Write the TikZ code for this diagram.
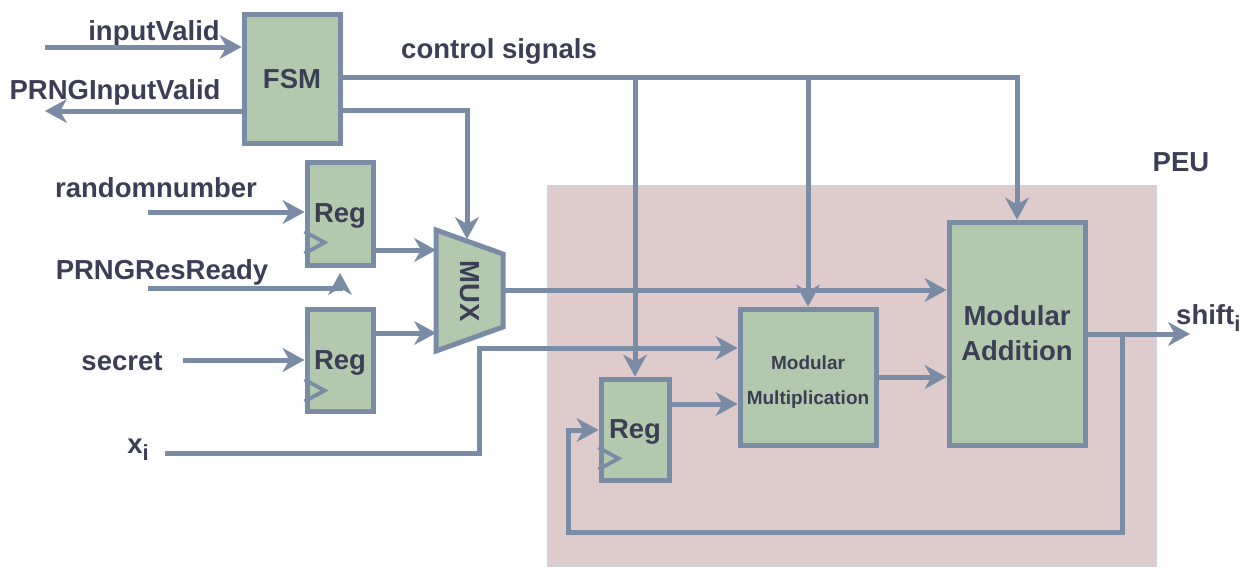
\documentclass[tikz,border=0pt]{standalone}
\usepackage{fontspec}
\setmainfont{Liberation Sans}
\usetikzlibrary{arrows.meta,calc}
\definecolor{ln}{HTML}{7A8BA6}
\definecolor{gr}{HTML}{B3C9AD}
\definecolor{peu}{HTML}{E0CBCC}
\definecolor{peub}{HTML}{D6D0D4}
\definecolor{tx}{HTML}{3C3E56}
\begin{document}
\begin{tikzpicture}[x=1pt,y=-1pt,
  blk/.style={draw=ln,fill=gr,line width=5pt,inner sep=0pt,text=tx,
    font=\fontsize{27.5}{30}\selectfont\bfseries,text depth=0pt},
  wire/.style={draw=ln,line width=5pt},
  arr/.style={wire,-{Stealth[length=22pt,width=24pt,inset=7pt,line width=0.5pt]}},
  lbl/.style={text=tx,font=\fontsize{27.5}{35}\selectfont\bfseries,inner sep=0pt,anchor=base},
  clk/.style={draw=ln,line width=3.8pt},
]
\useasboundingbox (0,0) rectangle (1248,570);
% PEU region
\node[draw=peub,fill=peu,line width=3.5pt,minimum width=607pt,minimum height=379pt,inner sep=0pt] (PEU) at (852,376) {};
\node[lbl] (tPEU) at (1181,171) {PEU};
% blocks
\node[blk,minimum width=96pt,minimum height=129pt] (FSM) at (292,78.5) {FSM};
\node[blk,minimum width=66pt,minimum height=103pt] (Reg1) at (340,213.5) {Reg};
\node[blk,minimum width=66pt,minimum height=102pt] (Reg2) at (340,360) {Reg};
\node[blk,minimum width=68pt,minimum height=101pt] (Reg3) at (635,429.5) {Reg};
\node[blk,minimum width=136pt,minimum height=136pt] (ModMult) at (808,377) {};
\node[blk,minimum width=136pt,minimum height=223pt] (ModAdd) at (1017,333.5) {};
\node[text=tx,font=\fontsize{19}{35}\selectfont\bfseries,align=center,inner sep=0pt] (tMM) at ($(ModMult.center)+(0,5.5)$) {Modular\\Multiplication};
\node[text=tx,font=\fontsize{27.5}{35}\selectfont\bfseries,align=center,inner sep=0pt] (tMA) at (ModAdd.center) {Modular\\Addition};
% MUX
\coordinate (muxtl) at (436,230);
\coordinate (muxtr) at (503,254);
\coordinate (muxbr) at (503,327);
\coordinate (muxbl) at (436,351);
\draw[draw=ln,fill=gr,line width=5pt] (muxtl) -- (muxtr) -- (muxbr) -- (muxbl) -- cycle;
\node[text=tx,font=\fontsize{27.5}{30}\selectfont\bfseries,inner sep=0pt,rotate=-90] (MUX) at (470,291) {MUX};
% clock triangles
\draw[clk] ($(Reg1.south west)+(0,-36)$) -- ++(20,11) -- ++(-20,11);
\draw[clk] ($(Reg2.south west)+(0,-34)$) -- ++(20,11) -- ++(-20,11);
\draw[clk] ($(Reg3.south west)+(0,-35)$) -- ++(20,11) -- ++(-20,11);
% labels
\node[lbl] (tIV) at (154,40) {inputValid};
\node[lbl] (tPIV) at (115,99) {PRNGInputValid};
\node[lbl] (tRN) at (156,197) {randomnumber};
\node[lbl] (tPR) at (162,279) {PRNGResReady};
\node[lbl] (tSC) at (122,370) {secret};
\node[lbl] (tXI) at (138,453) {x\raisebox{-7pt}{\fontsize{22}{22}\selectfont i}};
\node[lbl] (tCS) at (499,58) {control signals};
\node[lbl,anchor=base west] (tSH) at (1176,324) {shift\raisebox{-7pt}{\fontsize{22}{22}\selectfont i}};
% coordinates
\coordinate (ivs) at (45,47);
\coordinate (pivt) at (45,111);
\coordinate (c1) at (1017,77);
\coordinate (c2) at (635,77);
\coordinate (c3) at (808,77);
\coordinate (m1) at (467,110);
\coordinate (mt) at (467,239);
\coordinate (mi1) at (436,250);
\coordinate (mi2) at (436,333);
\coordinate (mo) at (503,290);
\coordinate (rn) at (148,212);
\coordinate (pr) at (148,288);
\coordinate (prt) at (340,273);
\coordinate (sc) at (183,360);
\coordinate (xi) at (165,453);
\coordinate (xc) at (479,348);
\coordinate (mm1) at (738,404);
\coordinate (so) at (1190,334);
\coordinate (fb1) at (1122,334);
\coordinate (fb2) at (568,532);
\coordinate (r3i) at (599,430);
% wires
\draw[arr] (ivs) -- (FSM.west |- ivs);
\draw[arr] (FSM.west |- pivt) -- (pivt);
\draw[arr] (FSM.east |- c1) -| (ModAdd.north);
\draw[arr] (c2) -- (Reg3.north);
\draw[arr] (c3) -- (ModMult.north);
\draw[arr] (FSM.east |- m1) -| (mt);
\draw[arr] (Reg1.east |- mi1) -- (mi1);
\draw[arr] (Reg2.east |- mi2) -- (mi2);
\draw[arr] (mo) -- (ModAdd.west |- mo);
\draw[arr] (rn) -- (Reg1.west |- rn);
\draw[arr] (pr) -| (prt);
\draw[arr] (sc) -- (Reg2.west |- sc);
\draw[arr] (xi) -| (xc) -- (ModMult.west |- xc);
\draw[arr] (Reg3.east |- mm1) -- (ModMult.west |- mm1);
\draw[arr] (ModMult.east) -- (ModAdd.west |- ModMult.east);
\draw[arr] (ModAdd.east |- so) -- (so);
\draw[arr] (fb1) |- (fb2) |- (Reg3.west |- r3i);
\end{tikzpicture}
\end{document}
